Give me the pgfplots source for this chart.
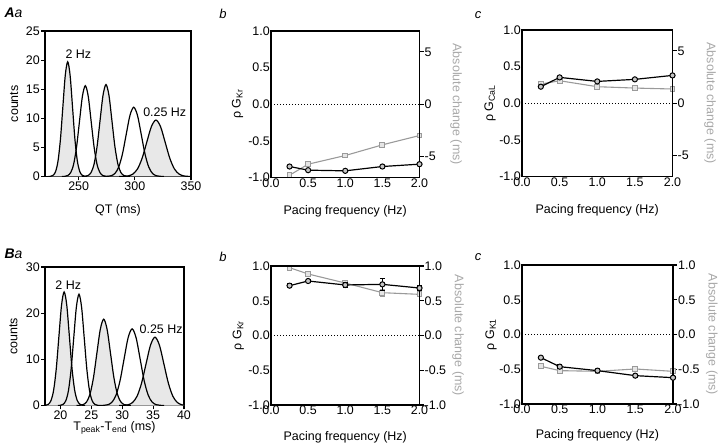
\documentclass[border=0pt]{standalone}
\usepackage{pgfplots}
\pgfplotsset{compat=1.18}
\usepackage{fontspec}
\setmainfont{Liberation Sans}
\definecolor{sgray}{HTML}{9A9A9A}
\definecolor{lgray}{HTML}{A8A8A8}
\definecolor{pfill}{HTML}{E8E8E8}
\newcommand{\fs}{\fontsize{12.5}{14}\selectfont}
\pgfplotsset{
  base/.style={scale only axis, anchor=south west,
    axis line style={line width=1.1pt},
    every tick/.style={black, line width=1.1pt},
    tick align=outside,
    tick label style={font=\fs, inner sep=1bp}},
  curve/.style={black, line width=1.2pt, smooth},
  pf/.style={draw=none, fill=pfill},
  blk/.style={black, line width=1.2pt, mark=*, mark size=2.6bp,
    mark options={draw=black, fill=gray!45, line width=1pt}},
  gry/.style={sgray, line width=1.1pt, mark=square*, mark size=2.4bp,
    mark options={draw=sgray, fill=gray!20, line width=1pt}},
  zero/.style={black, line width=0.9pt, dash pattern=on 1bp off 2bp},
  leftax/.style={base, xmin=0, xmax=2, ymin=-1, ymax=1, clip=false,
    major tick length=0bp, xtick pos=bottom, ytick pos=left,
    xtick={0,0.5,1,1.5,2}, xticklabels={0.0,0.5,1.0,1.5,2.0},
    ytick={-1,-0.5,0,0.5,1}, yticklabels={-1.0,-0.5,0.0,0.5,1.0},
    xlabel={Pacing frequency (Hz)}},
  rightax/.style={base, xmin=0, xmax=2, clip=false,
    axis x line=none, axis y line*=right, ytick pos=right,
    major tick length=4bp,
    ylabel={Absolute change (ms)}},
}
\begin{document}
\begin{tikzpicture}
\useasboundingbox (0bp,0bp) rectangle (720bp,445bp);

% ---------------- Aa ----------------
\begin{axis}[base, at={(45bp,268.5bp)}, width=146bp, height=145.5bp,
  xmin=220, xmax=350, ymin=0, ymax=25, clip=true,
  major tick length=4bp, xtick pos=bottom, ytick pos=left,
  xtick={250,300,350}, xticklabels={250,300,350},
  ytick={0,5,10,15,20,25}, yticklabels={0,5,10,15,20,25},
  every axis x label/.style={at={(axis description cs:0.5,-0.235)},anchor=center,font=\fs},
  every axis y label/.style={at={(axis description cs:-0.212,0.5)},anchor=center,rotate=90,font=\fs},
  xlabel={QT (ms)}, ylabel={counts}]
\addplot[pf] coordinates {(223.0,0)(225.15,0.04)(227.3,0.22)(229.45,0.86)(231.6,2.67)(233.75,6.40)(235.9,11.95)(238.05,17.39)(240.2,19.7)(242.35,17.39)(244.5,11.95)(246.65,6.40)(248.8,2.67)(250.95,0.86)(253.1,0.22)(255.25,0.04)(257.4,0)} \closedcycle;
\addplot[pf] coordinates {(253.1,0)(255.75,0.03)(258.4,0.18)(261.05,0.69)(263.7,2.14)(266.35,5.13)(269.0,9.58)(271.65,13.94)(274.3,15.8)(276.95,13.94)(279.6,9.58)(282.25,5.13)(284.9,2.14)(287.55,0.69)(290.2,0.18)(292.85,0.03)(295.5,0)} \closedcycle;
\addplot[pf] coordinates {(286.0,0)(290.1,0.02)(294.2,0.11)(298.3,0.43)(302.4,1.31)(306.5,3.15)(310.6,5.88)(314.7,8.56)(318.8,9.7)(322.9,8.56)(327.0,5.88)(331.1,3.15)(335.2,1.31)(339.3,0.43)(343.4,0.11)(347.5,0.02)(351.6,0)} \closedcycle;
\addplot[curve] coordinates {(223.0,0)(225.15,0.04)(227.3,0.22)(229.45,0.86)(231.6,2.67)(233.75,6.40)(235.9,11.95)(238.05,17.39)(240.2,19.7)(242.35,17.39)(244.5,11.95)(246.65,6.40)(248.8,2.67)(250.95,0.86)(253.1,0.22)(255.25,0.04)(257.4,0)};
\addplot[curve] coordinates {(235.1,0)(237.7,0.03)(240.3,0.17)(242.9,0.68)(245.5,2.11)(248.1,5.07)(250.7,9.46)(253.3,13.77)(255.9,15.6)(258.5,13.77)(261.1,9.46)(263.7,5.07)(266.3,2.11)(268.9,0.68)(271.5,0.17)(274.1,0.03)(276.7,0)};
\addplot[curve] coordinates {(253.1,0)(255.75,0.03)(258.4,0.18)(261.05,0.69)(263.7,2.14)(266.35,5.13)(269.0,9.58)(271.65,13.94)(274.3,15.8)(276.95,13.94)(279.6,9.58)(282.25,5.13)(284.9,2.14)(287.55,0.69)(290.2,0.18)(292.85,0.03)(295.5,0)};
\addplot[curve] coordinates {(272.2,0)(275.55,0.03)(278.9,0.13)(282.25,0.52)(285.6,1.61)(288.95,3.86)(292.3,7.22)(295.65,10.50)(299.0,11.9)(302.35,10.50)(305.7,7.22)(309.05,3.86)(312.4,1.61)(315.75,0.52)(319.1,0.13)(322.45,0.03)(325.8,0)};
\addplot[curve] coordinates {(286.0,0)(290.1,0.02)(294.2,0.11)(298.3,0.43)(302.4,1.31)(306.5,3.15)(310.6,5.88)(314.7,8.56)(318.8,9.7)(322.9,8.56)(327.0,5.88)(331.1,3.15)(335.2,1.31)(339.3,0.43)(343.4,0.11)(347.5,0.02)(351.6,0)};
\node[font=\fs] at (axis cs:249.7,21.05) {2 Hz};
\node[font=\fs] at (axis cs:326.6,11.1) {0.25 Hz};
\end{axis}

% ---------------- Ab ----------------
\begin{axis}[rightax, at={(271bp,267.5bp)}, width=148.5bp, height=146.5bp,
  ymin=-7, ymax=7, ytick={-5,0,5}, yticklabels={-5,0,5},
  every axis y label/.style={at={(axis description cs:1.246,0.5)},anchor=center,rotate=-90,text=lgray,font=\fs}]
\addplot[gry] coordinates {(0.25,-6.78)(0.5,-5.73)(1,-4.9)(1.5,-3.88)(2,-2.99)};
\end{axis}
\begin{axis}[leftax, at={(271bp,267.5bp)}, width=148.5bp, height=146.5bp,
  every axis x label/.style={at={(axis description cs:0.5,-0.23)},anchor=center,font=\fs},
  every axis y label/.style={at={(axis description cs:-0.225,0.5)},anchor=center,rotate=90,font=\fs},
  ylabel={ρ G\textsubscript{Kr}}]
\addplot[zero] coordinates {(0,0)(2,0)};
\addplot[blk] coordinates {(0.25,-0.85)(0.5,-0.9)(1,-0.909)(1.5,-0.85)(2,-0.818)};
\end{axis}

% ---------------- Ac ----------------
\begin{axis}[rightax, at={(522bp,268.5bp)}, width=150.5bp, height=146.5bp,
  ymin=-7, ymax=7, ytick={-5,0,5}, yticklabels={-5,0,5},
  every axis y label/.style={at={(axis description cs:1.249,0.5)},anchor=center,rotate=-90,text=lgray,font=\fs}]
\addplot[gry] coordinates {(0.25,1.83)(0.5,2.15)(1,1.58)(1.5,1.45)(2,1.36)};
\end{axis}
\begin{axis}[leftax, at={(522bp,268.5bp)}, width=150.5bp, height=146.5bp,
  every axis x label/.style={at={(axis description cs:0.5,-0.23)},anchor=center,font=\fs},
  every axis y label/.style={at={(axis description cs:-0.213,0.5)},anchor=center,rotate=90,font=\fs},
  ylabel={ρ G\textsubscript{CaL}}]
\addplot[zero] coordinates {(0,0)(2,0)};
\addplot[blk] coordinates {(0.25,0.226)(0.5,0.353)(1,0.298)(1.5,0.326)(2,0.38)};
\end{axis}

% ---------------- Ba ----------------
\begin{axis}[base, at={(45bp,39.5bp)}, width=139bp, height=138.5bp,
  xmin=17.5, xmax=40, ymin=0, ymax=30, clip=true,
  major tick length=4bp, xtick pos=bottom, ytick pos=left,
  xtick={20,25,30,35,40}, xticklabels={20,25,30,35,40},
  ytick={0,10,20,30}, yticklabels={0,10,20,30},
  every axis x label/.style={at={(axis description cs:0.5,-0.16)},anchor=center,font=\fs},
  every axis y label/.style={at={(axis description cs:-0.228,0.5)},anchor=center,rotate=90,font=\fs},
  xlabel={T\textsubscript{peak}-T\textsubscript{end} (ms)}, ylabel={counts}]
\addplot[pf] coordinates {(17.2,0)(17.625,0.05)(18.05,0.27)(18.475,1.08)(18.9,3.33)(19.325,7.99)(19.75,14.92)(20.175,21.71)(20.6,24.6)(21.025,21.71)(21.45,14.92)(21.875,7.99)(22.3,3.33)(22.725,1.08)(23.15,0.27)(23.575,0.05)(24.0,0)} \closedcycle;
\addplot[pf] coordinates {(22.6,0)(23.15,0.04)(23.7,0.21)(24.25,0.82)(24.8,2.53)(25.35,6.07)(25.9,11.34)(26.45,16.50)(27.0,18.7)(27.55,16.50)(28.1,11.34)(28.65,6.07)(29.2,2.53)(29.75,0.82)(30.3,0.21)(30.85,0.04)(31.4,0)} \closedcycle;
\addplot[pf] coordinates {(29.5,0)(30.225,0.03)(30.95,0.16)(31.675,0.65)(32.4,2.00)(33.125,4.81)(33.85,8.98)(34.575,13.06)(35.3,14.8)(36.025,13.06)(36.75,8.98)(37.475,4.81)(38.2,2.00)(38.925,0.65)(39.65,0.16)(40.375,0.03)(41.1,0)} \closedcycle;
\addplot[curve] coordinates {(17.2,0)(17.625,0.05)(18.05,0.27)(18.475,1.08)(18.9,3.33)(19.325,7.99)(19.75,14.92)(20.175,21.71)(20.6,24.6)(21.025,21.71)(21.45,14.92)(21.875,7.99)(22.3,3.33)(22.725,1.08)(23.15,0.27)(23.575,0.05)(24.0,0)};
\addplot[curve] coordinates {(19.6,0)(20.025,0.05)(20.45,0.27)(20.875,1.06)(21.3,3.26)(21.725,7.83)(22.15,14.62)(22.575,21.27)(23.0,24.1)(23.425,21.27)(23.85,14.62)(24.275,7.83)(24.7,3.26)(25.125,1.06)(25.55,0.27)(25.975,0.05)(26.4,0)};
\addplot[curve] coordinates {(22.6,0)(23.15,0.04)(23.7,0.21)(24.25,0.82)(24.8,2.53)(25.35,6.07)(25.9,11.34)(26.45,16.50)(27.0,18.7)(27.55,16.50)(28.1,11.34)(28.65,6.07)(29.2,2.53)(29.75,0.82)(30.3,0.21)(30.85,0.04)(31.4,0)};
\addplot[curve] coordinates {(26.4,0)(27.05,0.04)(27.7,0.18)(28.35,0.73)(29.0,2.25)(29.65,5.39)(30.3,10.07)(30.95,14.65)(31.6,16.6)(32.25,14.65)(32.9,10.07)(33.55,5.39)(34.2,2.25)(34.85,0.73)(35.5,0.18)(36.15,0.04)(36.8,0)};
\addplot[curve] coordinates {(29.5,0)(30.225,0.03)(30.95,0.16)(31.675,0.65)(32.4,2.00)(33.125,4.81)(33.85,8.98)(34.575,13.06)(35.3,14.8)(36.025,13.06)(36.75,8.98)(37.475,4.81)(38.2,2.00)(38.925,0.65)(39.65,0.16)(40.375,0.03)(41.1,0)};
\node[font=\fs] at (axis cs:21.27,26) {2 Hz};
\node[font=\fs] at (axis cs:36.3,16.5) {0.25 Hz};
\end{axis}

% ---------------- Bb ----------------
\begin{axis}[rightax, at={(271bp,40bp)}, width=148.5bp, height=139bp,
  ymin=-1, ymax=1, ytick={-1,-0.5,0,0.5,1}, yticklabels={-1.0,-0.5,0.0,0.5,1.0},
  every axis y label/.style={at={(axis description cs:1.26,0.5)},anchor=center,rotate=-90,text=lgray,font=\fs}]
\addplot[gry, error bars/.cd, y dir=both, y explicit,
  error bar style={line width=1pt, sgray}, error mark options={rotate=90, mark size=2.5bp, line width=1pt, sgray}]
  coordinates {(0.25,0.976) +- (0,0.03) (0.5,0.885) +- (0,0.02) (1,0.755) +- (0,0.02) (1.5,0.616) +- (0,0.05) (2,0.592) +- (0,0.03)};
\end{axis}
\begin{axis}[leftax, at={(271bp,40bp)}, width=148.5bp, height=139bp,
  every axis x label/.style={at={(axis description cs:0.5,-0.23)},anchor=center,font=\fs},
  every axis y label/.style={at={(axis description cs:-0.22,0.5)},anchor=center,rotate=90,font=\fs},
  ylabel={ρ G\textsubscript{Kr}}]
\addplot[zero] coordinates {(0,0)(2,0)};
\addplot[blk, error bars/.cd, y dir=both, y explicit,
  error bar style={line width=1pt, black}, error mark options={rotate=90, mark size=2.5bp, line width=1pt, black}]
  coordinates {(0.25,0.717) +- (0,0.03) (0.5,0.784) +- (0,0.02) (1,0.727) +- (0,0.03) (1.5,0.736) +- (0,0.09) (2,0.683) +- (0,0.04)};
\end{axis}

% ---------------- Bc ----------------
\begin{axis}[rightax, at={(522bp,41bp)}, width=151bp, height=139bp,
  ymin=-1, ymax=1, ytick={-1,-0.5,0,0.5,1}, yticklabels={-1.0,-0.5,0.0,0.5,1.0},
  every axis y label/.style={at={(axis description cs:1.258,0.5)},anchor=center,rotate=-90,text=lgray,font=\fs}]
\addplot[gry] coordinates {(0.25,-0.458)(0.5,-0.52)(1,-0.53)(1.5,-0.496)(2,-0.53)};
\end{axis}
\begin{axis}[leftax, at={(522bp,41bp)}, width=151bp, height=139bp,
  every axis x label/.style={at={(axis description cs:0.5,-0.228)},anchor=center,font=\fs},
  every axis y label/.style={at={(axis description cs:-0.205,0.5)},anchor=center,rotate=90,font=\fs},
  ylabel={ρ G\textsubscript{K1}}]
\addplot[zero] coordinates {(0,0)(2,0)};
\addplot[blk, error bars/.cd, y dir=both, y explicit,
  error bar style={line width=1pt, black}, error mark options={rotate=90, mark size=2.5bp, line width=1pt, black}]
  coordinates {(0.25,-0.333) +- (0,0.01) (0.5,-0.463) +- (0,0.03) (1,-0.52) +- (0,0.01) (1.5,-0.592) +- (0,0.02) (2,-0.621) +- (0,0.01)};
\end{axis}

% panel letters
\node[font=\fontsize{14}{16}\selectfont, anchor=west] at (1bp,432bp) {\textbf{\textit{A}}\textit{a}};
\node[font=\fontsize{13}{15}\selectfont] at (223bp,431bp) {\textit{b}};
\node[font=\fontsize{13}{15}\selectfont] at (478bp,430bp) {\textit{c}};
\node[font=\fontsize{14}{16}\selectfont, anchor=west] at (1bp,191bp) {\textbf{\textit{B}}\textit{a}};
\node[font=\fontsize{13}{15}\selectfont] at (223bp,188bp) {\textit{b}};
\node[font=\fontsize{13}{15}\selectfont] at (478bp,188bp) {\textit{c}};
\end{tikzpicture}
\end{document}
